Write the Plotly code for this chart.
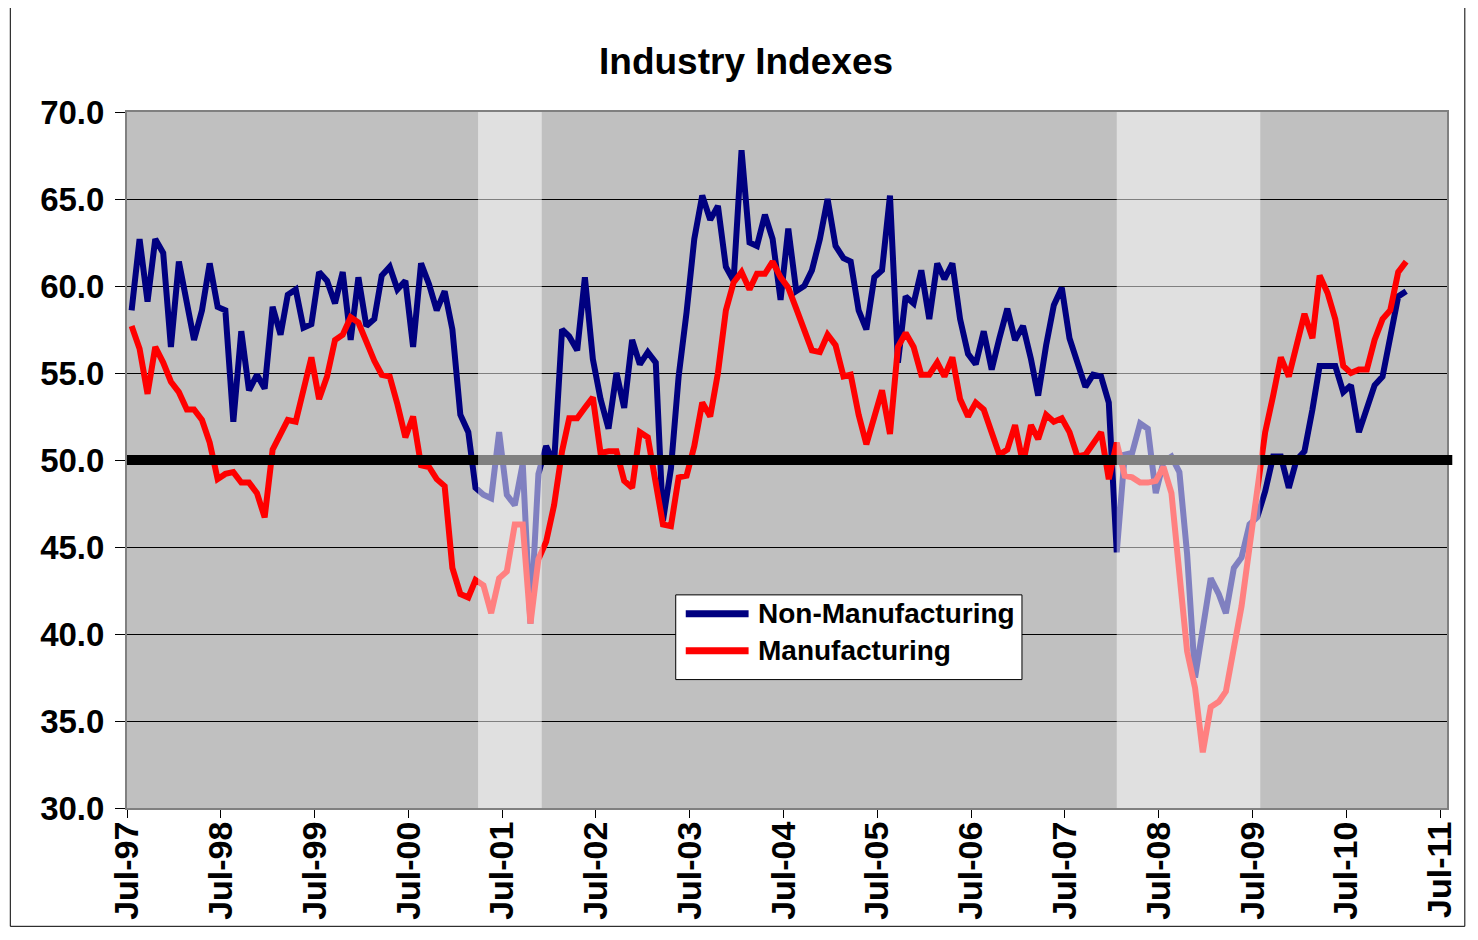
import pandas as pd
import plotly.graph_objects as go

# ---------------- data (monthly, Jul-97 .. Feb-11) ----------------
start_month = "1997-07-01"
non_manufacturing = [
    58.6, 62.7, 59.1, 62.7, 61.9, 56.5, 61.4, 59.2, 56.9, 58.6, 61.3, 58.8,
    58.6, 52.2, 57.4, 54.0, 54.9, 54.1, 58.8, 57.2, 59.5, 59.8, 57.6, 57.8,
    60.8, 60.3, 59.0, 60.8, 56.9, 60.5, 57.7, 58.1, 60.6, 61.1, 59.8, 60.3,
    56.5, 61.3, 60.1, 58.6, 59.7, 57.5, 52.6, 51.6, 48.4, 48.0, 47.8, 51.6,
    48.0, 47.4, 49.8, 40.6, 49.2, 50.8, 49.8, 57.5, 57.1, 56.3, 60.5, 55.8,
    53.5, 51.8, 55.0, 53.0, 56.9, 55.5, 56.2, 55.6, 46.5, 49.5, 54.8, 58.5,
    62.7, 65.2, 63.8, 64.6, 61.1, 60.3, 67.8, 62.5, 62.3, 64.1, 62.7, 59.2,
    63.3, 59.7, 60.0, 60.9, 62.7, 65.0, 62.3, 61.6, 61.4, 58.6, 57.5, 60.5,
    60.9, 65.2, 55.6, 59.4, 59.0, 60.9, 58.1, 61.3, 60.4, 61.3, 58.1, 56.1,
    55.5, 57.4, 55.2, 57.0, 58.7, 56.9, 57.7, 55.8, 53.7, 56.6, 58.9, 59.9,
    57.0, 55.6, 54.2, 54.9, 54.8, 53.3, 44.7, 50.3, 50.4, 52.1, 51.8, 48.1,
    49.9, 50.2, 49.3, 44.6, 37.5, 40.3, 43.2, 42.3, 41.2, 43.8, 44.4, 46.3,
    46.7, 48.2, 50.2, 50.2, 48.4, 50.0, 50.5, 52.9, 55.4, 55.4, 55.4, 53.9,
    54.3, 51.6, 53.1, 54.3, 54.8, 56.9, 59.4, 59.7,
]
manufacturing = [
    57.7, 56.4, 53.8, 56.5, 55.6, 54.5, 53.9, 52.9, 52.9, 52.3, 51.0, 48.9,
    49.2, 49.3, 48.7, 48.7, 48.1, 46.7, 50.6, 51.5, 52.3, 52.2, 53.9, 55.9,
    53.5, 54.8, 56.9, 57.2, 58.2, 57.9, 56.8, 55.7, 54.9, 54.8, 53.2, 51.3,
    52.5, 49.7, 49.6, 48.9, 48.5, 43.8, 42.3, 42.1, 43.1, 42.8, 41.2, 43.2,
    43.6, 46.3, 46.3, 40.6, 44.3, 45.3, 47.4, 50.5, 52.4, 52.4, 53.0, 53.6,
    50.4, 50.5, 50.5, 48.8, 48.4, 51.6, 51.3, 48.9, 46.3, 46.2, 49.0, 49.1,
    50.8, 53.3, 52.5, 55.0, 58.6, 60.2, 60.8, 59.8, 60.7, 60.7, 61.4, 60.5,
    59.9, 58.7, 57.5, 56.3, 56.2, 57.2, 56.6, 54.8, 54.9, 52.6, 50.9, 52.6,
    54.0, 51.5, 56.5, 57.3, 56.5, 54.9, 54.9, 55.6, 54.8, 55.9, 53.5, 52.5,
    53.3, 52.9, 51.6, 50.3, 50.6, 52.0, 49.8, 52.0, 51.2, 52.6, 52.2, 52.4,
    51.6, 50.2, 50.3, 51.0, 51.6, 48.9, 51.0, 49.1, 49.0, 48.7, 48.7, 48.8,
    49.6, 48.1, 43.8, 39.0, 36.9, 33.2, 35.8, 36.1, 36.7, 39.2, 41.6, 45.0,
    48.3, 51.6, 53.7, 55.9, 54.8, 56.5, 58.4, 57.0, 60.6, 59.6, 58.1, 55.4,
    55.0, 55.2, 55.2, 56.9, 58.1, 58.6, 60.8, 61.4,
]
series_names = ["Non-Manufacturing", "Manufacturing"]
tick_years = list(range(1997, 2012))
tick_labels = ["Jul-%02d" % (y % 100) for y in tick_years]
y_ticks = [30, 35, 40, 45, 50, 55, 60, 65, 70]
threshold = 50
recessions = [("2001-03-29", "2001-12-02"), ("2008-01-19", "2009-07-31")]

# ---------------- figure ----------------
months = pd.date_range(start_month, periods=len(manufacturing), freq="MS") + pd.Timedelta(days=18)
tick_vals = [pd.Timestamp(f"{y}-07-01") for y in tick_years]

FONT = "Liberation Sans, Arial, sans-serif"

fig = go.Figure()
fig.add_trace(go.Scatter(x=months, y=non_manufacturing, mode="lines", name=series_names[0],
                         line=dict(color="#000080", width=6), showlegend=False))
fig.add_trace(go.Scatter(x=months, y=manufacturing, mode="lines", name=series_names[1],
                         line=dict(color="#FF0000", width=6), showlegend=False))

shapes = []
# 50 line
shapes.append(dict(type="line", xref="paper", yref="y", x0=0, x1=1.004, y0=threshold, y1=threshold,
                   line=dict(color="black", width=10), layer="above"))
# recession overlays
for a, b in recessions:
    shapes.append(dict(type="rect", xref="x", yref="paper", x0=a, x1=b, y0=0, y1=1,
                       fillcolor="rgba(255,255,255,0.5)", line=dict(width=0), layer="above"))
# outer frame
shapes.append(dict(type="rect", xref="paper", yref="paper", x0=-0.0884, x1=1.0135, y0=-0.170, y1=1.153,
                   line=dict(color="black", width=1), fillcolor="rgba(0,0,0,0)", layer="below"))
# legend box
lx0, lx1, ly0, ly1 = 0.4157, 0.678, 0.1845, 0.3062
shapes.append(dict(type="rect", xref="paper", yref="paper", x0=lx0, x1=lx1, y0=ly0, y1=ly1,
                   line=dict(color="black", width=1), fillcolor="white", layer="above"))
legend_rows = [(series_names[0], "#000080", 0.279), (series_names[1], "#FF0000", 0.226)]
annotations = []
for name, col, yy in legend_rows:
    shapes.append(dict(type="line", xref="paper", yref="paper", x0=0.4233, x1=0.4709, y0=yy, y1=yy,
                       line=dict(color=col, width=7), layer="above"))
    annotations.append(dict(xref="paper", yref="paper", x=0.4762, y=yy, xanchor="left", yanchor="middle",
                            text=name, showarrow=False,
                            font=dict(family=FONT, size=28, color="black", weight="bold")))

# page body has an 8px margin, so the figure is drawn 8px smaller and offset
fig.update_layout(
    width=1462, height=924,
    margin=dict(l=119, r=20, t=104, b=121),
    paper_bgcolor="white", plot_bgcolor="#C0C0C0",
    title=dict(text="Industry Indexes", x=0.5048, xanchor="center", y=0.9426, yanchor="middle",
               yref="container", font=dict(family=FONT, size=37, color="black", weight="bold")),
    shapes=shapes, annotations=annotations,
    showlegend=False,
)
fig.update_xaxes(
    type="date", range=["1997-07-01", "2011-07-28"],
    tickmode="array", tickvals=tick_vals, ticktext=tick_labels, tickangle=-90,
    tickfont=dict(family=FONT, size=34, color="black", weight="bold"),
    ticks="outside", ticklen=8, tickcolor="black", tickwidth=1, ticklabelstandoff=-10,
    showgrid=False, showline=True, linecolor="#808080", linewidth=2, mirror=True, zeroline=False,
)
fig.update_yaxes(
    range=[30, 70], tickmode="array", tickvals=y_ticks, tickformat=".1f",
    tickfont=dict(family=FONT, size=33, color="black", weight="bold"),
    ticks="outside", ticklen=10, tickcolor="black", tickwidth=1, ticklabelstandoff=4,
    showgrid=True, gridcolor="black", gridwidth=1,
    showline=True, linecolor="#808080", linewidth=2, mirror=True, zeroline=False,
)

fig.write_html("out.html")
